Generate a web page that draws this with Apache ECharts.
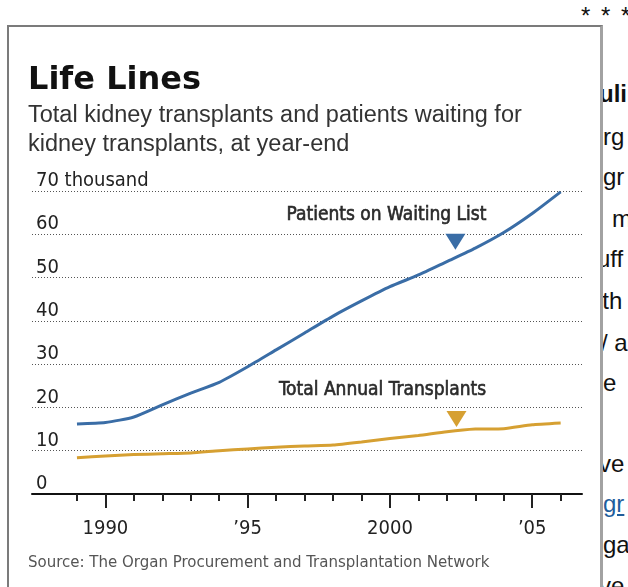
<!DOCTYPE html>
<html>
<head>
<meta charset="utf-8">
<title>Life Lines</title>
<script src="https://cdn.jsdelivr.net/npm/echarts@6/dist/echarts.min.js"></script>
<style>
html, body { margin: 0; padding: 0; background: #fff; }
body { width: 628px; height: 587px; position: relative; overflow: hidden; font-family: "Liberation Sans", Arial, sans-serif; }
#box {
  position: absolute; left: 7px; top: 25px; width: 596px; height: 640px;
  box-sizing: border-box;
  border-left: 2px solid #7b7b7b; border-top: 2px solid #7b7b7b; border-right: 3px solid #a2a2a2;
}
#chart { position: absolute; left: 0; top: 0; width: 628px; height: 587px; }
#stars { position: absolute; left: 581px; top: 2px; font-size: 24px; letter-spacing: 2px; color: #111; white-space: nowrap; }
#side { position: absolute; left: 603px; top: 0; width: 25px; height: 587px; overflow: hidden; }
#side div { position: absolute; font-size: 24px; line-height: 24px; color: #111; white-space: nowrap; }
#side a { color: #1f5e9c; text-decoration: underline; }
</style>
</head>
<body>
<div id="stars">* * *</div>
<div id="side">
  <div style="top:82px;left:-4px;font-weight:bold">uli</div>
  <div style="top:125px;left:0px">rg</div>
  <div style="top:165px;left:0px">gr</div>
  <div style="top:207px;left:9px">m</div>
  <div style="top:247px;left:-6px">uff</div>
  <div style="top:289px;left:-6px">ith</div>
  <div style="top:331px;left:-2px">/ a</div>
  <div style="top:371px;left:0px">e</div>
  <div style="top:452px;left:-4px">ve</div>
  <div style="top:492px;left:0px"><a>gr</a></div>
  <div style="top:533px;left:0px">ga</div>
  <div style="top:574px;left:-4px">ve</div>
</div>
<div id="box"></div>
<div id="chart"></div>
<script>
// 数据（千人）
const years = [1989, 1990, 1991, 1992, 1993, 1994, 1995, 1996, 1997, 1998, 1999, 2000, 2001, 2002, 2003, 2004, 2005, 2006];
const waitingList = [16.2, 16.5, 17.8, 20.6, 23.3, 25.8, 29.4, 33.3, 37.2, 41.1, 44.6, 47.9, 50.6, 53.7, 56.8, 60.4, 64.8, 69.8];
const transplants = [8.4, 8.8, 9.1, 9.3, 9.5, 10.0, 10.4, 10.8, 11.1, 11.3, 12.0, 12.8, 13.5, 14.4, 15.0, 15.1, 16.0, 16.4];

const majorYears = [1990, 1995, 2000, 2005];
const xTickLabels = ['1990', '\u201995', '2000', '\u201905'];
const yTickLabels = ['0', '10', '20', '30', '40', '50', '60', '70 thousand'];

const blue = '#3a6da6';
const gold = '#d6a032';
const narrow = '"DejaVu Sans Condensed", "Liberation Sans Narrow", sans-serif';

const chart = echarts.init(document.getElementById('chart'));

const xBase = {
  type: 'value',
  min: 1987.42,
  max: 2006.75,
  position: 'bottom',
  splitLine: { show: false },
};

// 注释文字：略加描边，模拟原图的中粗体
const noteLabel = (text) => ({
  show: true,
  position: 'inside',
  formatter: text,
  fontFamily: narrow,
  fontSize: 19,
  color: '#2a2a2a',
  textBorderColor: '#2a2a2a',
  textBorderWidth: 0.6,
});

chart.setOption({
  animation: false,
  title: [
    {
      text: 'Life Lines',
      left: 23,
      top: 60,
      itemGap: 4,
      textStyle: { fontFamily: '"DejaVu Sans", sans-serif', fontWeight: 900, fontSize: 32, color: '#111' },
      subtext: 'Total kidney transplants and patients waiting for\nkidney transplants, at year-end',
      subtextStyle: { fontFamily: '"Liberation Sans", Arial, sans-serif', fontSize: 23.5, lineHeight: 29, color: '#333' },
    },
    {
      text: 'Source: The Organ Procurement and Transplantation Network',
      left: 23,
      top: 549,
      textStyle: { fontFamily: narrow, fontWeight: 'normal', fontSize: 16.7, color: '#555' },
    },
  ],
  grid: { left: 32, right: 46, top: 191, bottom: 93 },
  xAxis: [
    Object.assign({}, xBase, {
      axisLine: { show: true, lineStyle: { color: '#111', width: 2 } },
      axisTick: { show: true, customValues: years, length: 7, lineStyle: { color: '#222', width: 2 } },
      axisLabel: {
        show: true,
        customValues: majorYears,
        margin: 25,
        fontFamily: narrow,
        fontSize: 20,
        color: '#222',
        formatter: (v) => xTickLabels[majorYears.indexOf(Math.round(v))],
      },
    }),
    Object.assign({}, xBase, {
      axisLine: { show: false },
      axisTick: { show: true, customValues: majorYears, length: 14, lineStyle: { color: '#222', width: 2 } },
      axisLabel: { show: false },
    }),
  ],
  yAxis: {
    type: 'value',
    min: 0,
    max: 70,
    interval: 10,
    axisLine: { show: false },
    axisTick: { show: false },
    splitLine: {
      show: true,
      lineStyle: { color: '#555', width: 1, type: [1, 2] },
    },
    axisLabel: {
      inside: true,
      margin: 4,
      verticalAlign: 'bottom',
      padding: [0, 0, 0, 0],
      fontFamily: narrow,
      fontSize: 20,
      color: '#222',
      formatter: (v) => yTickLabels[Math.round(v / 10)],
    },
  },
  series: [
    {
      name: 'Patients on Waiting List',
      type: 'line',
      xAxisIndex: 0,
      data: years.map((y, i) => [y, waitingList[i]]),
      smooth: 0.2,
      symbol: 'none',
      lineStyle: { color: blue, width: 3 },
      markPoint: {
        silent: true,
        data: [
          { coord: [2002.3, 58.3], symbol: 'triangle', symbolRotate: 180, symbolSize: [20, 16], itemStyle: { color: blue }, label: { show: false } },
          { coord: [1999.88, 64.4], symbol: 'rect', symbolSize: 0, label: noteLabel('Patients on Waiting List') },
        ],
      },
    },
    {
      name: 'Total Annual Transplants',
      type: 'line',
      xAxisIndex: 0,
      data: years.map((y, i) => [y, transplants[i]]),
      smooth: 0.2,
      symbol: 'none',
      lineStyle: { color: gold, width: 3 },
      markPoint: {
        silent: true,
        data: [
          { coord: [2002.34, 17.3], symbol: 'triangle', symbolRotate: 180, symbolSize: [20, 16], itemStyle: { color: gold }, label: { show: false } },
          { coord: [1999.74, 24.0], symbol: 'rect', symbolSize: 0, label: noteLabel('Total Annual Transplants') },
        ],
      },
    },
  ],
});
</script>
</body>
</html>
